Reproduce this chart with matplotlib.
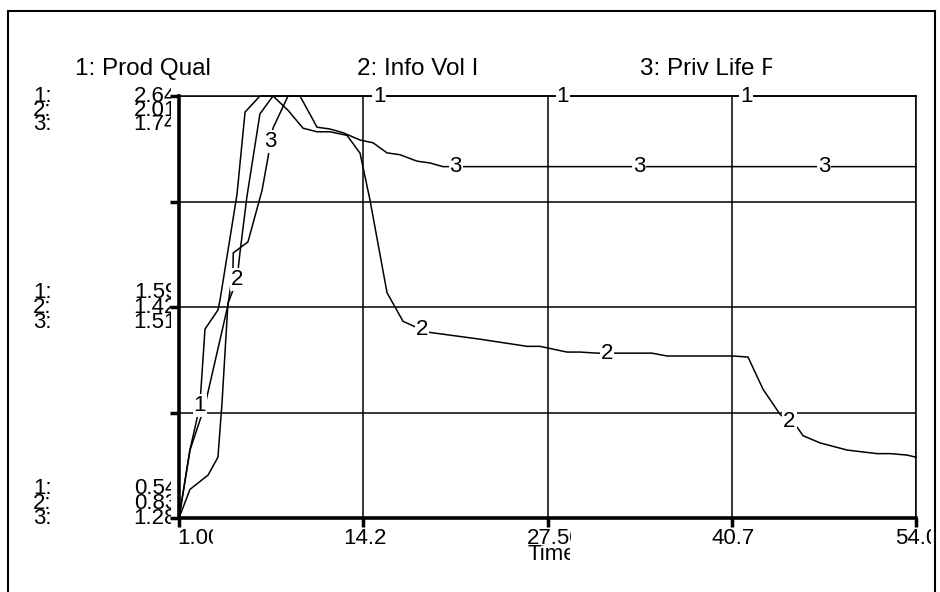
import numpy as np
import matplotlib.pyplot as plt
from matplotlib.patches import Rectangle
from matplotlib.transforms import Bbox, TransformedBbox

plt.rcParams['font.family'] = ['Liberation Sans', 'DejaVu Sans']

W, H = 940, 592
FS = 16

# x axis (time)
x_ticks = [1.00, 14.25, 27.50, 40.75, 54.00]
x_tick_labels = ["1.00", "14.25", "27.50", "40.75", "54.00"]
x_label = "Time"

# series names and their own scales
names = ["1: Prod Qual", "2: Info Vol I", "3: Priv Life F"]
y_min = [0.54, 0.83, 1.28]
y_max = [2.64, 2.01, 1.74]
top_labels = ["2.64", "2.01", "1.74"]
mid_labels = ["1.59", "1.42", "1.51"]
bot_labels = ["0.54", "0.83", "1.28"]

# 1: Prod Qual
t1 = [1.0, 1.79, 2.15, 2.5, 2.87, 3.80, 3.95, 5.17, 5.75, 6.82, 54.0]
v1 = [0.54, 0.88, 0.99, 1.10, 1.48, 1.575, 1.625, 2.15, 2.56, 2.64, 2.64]

# 2: Info Vol
t2 = [1.0, 1.79, 3.09, 3.80, 4.09, 4.52, 5.17, 5.39, 5.89, 6.82, 7.76, 8.84,
      9.92, 10.92, 11.86, 13.08, 14.02, 14.73, 15.96, 17.11, 18.83, 22.65,
      26.03, 26.96, 28.90, 29.84, 31.06, 35.01, 36.09, 40.84, 41.92, 43.0,
      44.22, 45.45, 45.88, 47.10, 49.04, 51.2, 52.13, 53.35, 54.0]
v2 = [0.83, 0.91, 0.95, 1.00, 1.15, 1.43, 1.496, 1.574, 1.73, 1.96, 2.01, 1.97,
      1.92, 1.91, 1.91, 1.90, 1.85, 1.72, 1.46, 1.38, 1.35, 1.33,
      1.31, 1.31, 1.294, 1.294, 1.291, 1.291, 1.283, 1.283, 1.28, 1.19,
      1.12, 1.084, 1.06, 1.04, 1.02, 1.01, 1.01, 1.006, 1.00]

# 3: Priv Life
t3 = [1.0, 1.79, 2.87, 4.52, 4.88, 4.90, 5.17, 5.96, 6.97, 7.40, 7.76, 8.84,
      9.70, 10.64, 10.92, 11.86, 12.79, 14.02, 14.95, 15.96, 16.89, 18.11,
      19.05, 19.98, 54.0]
v3 = [1.28, 1.354, 1.403, 1.512, 1.55, 1.569, 1.572, 1.581, 1.637, 1.673, 1.705, 1.74,
      1.74, 1.714, 1.706, 1.704, 1.70, 1.692, 1.689, 1.678, 1.676, 1.669,
      1.667, 1.663, 1.663]

series_t = [t1, t2, t3]
series_v = [v1, v2, v3]

# times where the curve numbers sit
mark_t = [[2.5, 15.4, 28.6, 41.8],
          [5.17, 18.5, 31.8, 44.9],
          [7.6, 20.9, 34.1, 47.4]]


def fx(px):
    return px / W


def fy(py):
    return 1 - py / H


def clipped_text(fig, x, y, s, clip, size=FS, **kw):
    t = fig.text(fx(x), fy(y), s, fontsize=size, **kw)
    x0, y0, x1, y1 = clip
    t.set_clip_box(TransformedBbox(Bbox.from_extents(fx(x0), fy(y1), fx(x1), fy(y0)),
                                   fig.transFigure))
    t.set_clip_on(True)
    return t


fig = plt.figure(figsize=(W / 100, H / 100), dpi=100)

# outer frame
fig.patches.append(Rectangle((fx(8), fy(600)), fx(935) - fx(8), fy(11) - fy(600),
                             transform=fig.transFigure, fill=False, lw=1.5, ec='black'))

left, right, top, bottom = 179, 916, 96, 518
ax = fig.add_axes([fx(left), fy(bottom), fx(right) - fx(left), fy(top) - fy(bottom)])
axes = [ax, ax.twinx(), ax.twinx()]

for a, lo, hi in zip(axes, y_min, y_max):
    a.set_xlim(x_ticks[0], x_ticks[-1])
    a.set_ylim(lo, hi)

for a in axes[1:]:
    a.set_yticks([])
    for s in a.spines.values():
        s.set_visible(False)

ax.set_xticks(x_ticks)
ax.set_yticks(np.linspace(y_min[0], y_max[0], 5))
ax.set_xticklabels([])
ax.set_yticklabels([])
ax.grid(True, color='black', lw=1.1)
ax.tick_params(direction='out', length=6.5, width=2.5, color='black')
ax.spines['left'].set_linewidth(2.6)
ax.spines['bottom'].set_linewidth(2.6)
ax.spines['top'].set_linewidth(1.1)
ax.spines['right'].set_linewidth(1.1)

for a, t, v in zip(axes, series_t, series_v):
    a.plot(t, v, color='black', lw=1.1, clip_on=False, zorder=3)

# curve numbers with a white box, drawn on the top-most axes
for i, (a, t, v) in enumerate(zip(axes, series_t, series_v)):
    for tm in mark_t[i]:
        axes[2].text(tm, np.interp(tm, t, v), str(i + 1), transform=a.transData,
                     fontsize=FS, ha='center', va='center', zorder=10, clip_on=False,
                     bbox=dict(fc='white', ec='none', pad=0.6))

# series titles (the long names are cut off in the original)
for name, x0, w in zip(names, [75, 357, 640], [142, 132, 132]):
    clipped_text(fig, x0, 69, name, (x0, 50, x0 + w, 90), size=17.5,
                 ha='left', va='center')

# scale labels at top, middle and bottom of the axis
row_gap = 14.5
for labels, y2 in [(top_labels, 96 + row_gap), (mid_labels, 307.5), (bot_labels, 518 - row_gap)]:
    for i, lab in enumerate(labels):
        y = y2 + (i - 1) * row_gap
        fig.text(fx(33), fy(y), f"{i + 1}:", fontsize=FS, ha='left', va='center')
        clipped_text(fig, 177, y, lab, (100, y - 15, 171, y + 15), ha='right', va='center')

# x tick labels
for lab, x0, w in zip(x_tick_labels, [177, 343, 527, 711, 895], [36, 44, 44, 44, 36]):
    clipped_text(fig, x0, 539, lab, (x0, 525, x0 + w, 553), ha='left', va='center')
clipped_text(fig, 527, 555, x_label, (527, 545, 570, 575), ha='left', va='center')

fig.savefig('out.png', dpi=100)
